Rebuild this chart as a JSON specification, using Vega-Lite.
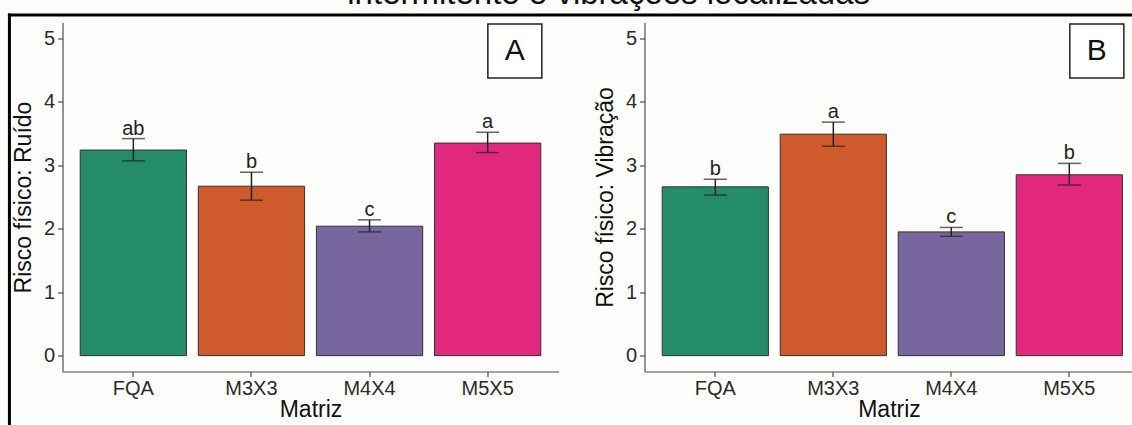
{
  "$schema": "https://vega.github.io/schema/vega-lite/v6.json",
  "padding": {"left": 6.5, "top": -22.5, "right": 0, "bottom": 0},
  "background": "#fdfdfb",
  "bounds": "flush",
  "spacing": 86,
  "title": {
    "text": "intermitente e vibrações localizadas",
    "fontSize": 33,
    "font": "Liberation Sans",
    "fontWeight": "normal",
    "color": "#111111",
    "anchor": "middle",
    "frame": "bounds",
    "baseline": "alphabetic",
    "offset": -24.5,
    "dx": 38
  },
  "datasets": {
    "ruido": [
      {"Matriz": "FQA", "media": 3.24, "inf": 3.07, "sup": 3.42, "letra": "ab"},
      {"Matriz": "M3X3", "media": 2.67, "inf": 2.45, "sup": 2.89, "letra": "b"},
      {"Matriz": "M4X4", "media": 2.04, "inf": 1.95, "sup": 2.14, "letra": "c"},
      {"Matriz": "M5X5", "media": 3.35, "inf": 3.2, "sup": 3.52, "letra": "a"}
    ],
    "vibracao": [
      {"Matriz": "FQA", "media": 2.66, "inf": 2.53, "sup": 2.78, "letra": "b"},
      {"Matriz": "M3X3", "media": 3.49, "inf": 3.3, "sup": 3.68, "letra": "a"},
      {"Matriz": "M4X4", "media": 1.95, "inf": 1.88, "sup": 2.02, "letra": "c"},
      {"Matriz": "M5X5", "media": 2.85, "inf": 2.69, "sup": 3.03, "letra": "b"}
    ],
    "painelA": [{"painel": "A"}],
    "painelB": [{"painel": "B"}]
  },
  "hconcat": [
    {
      "width": 496,
      "height": 349,
      "resolve": {"scale": {"x": "independent"}, "axis": {"x": "independent"}},
      "layer": [
        {
          "data": {"name": "ruido"},
          "encoding": {
            "x": {"field": "Matriz", "type": "nominal", "sort": ["FQA", "M3X3", "M4X4", "M5X5"], "scale": {"paddingInner": 0.1, "paddingOuter": 0.15}, "axis": {"title": "Matriz", "labelAngle": 0}}
          },
          "layer": [
            {
              "mark": {"type": "bar", "stroke": "#333333", "strokeWidth": 1},
              "encoding": {
                "y": {"field": "media", "type": "quantitative", "scale": {"domain": [-0.25, 5.25], "nice": false, "zero": false}, "axis": {"title": "Risco físico: Ruído", "values": [0, 1, 2, 3, 4, 5], "format": "d"}},
                "color": {"field": "Matriz", "type": "nominal", "scale": {"domain": ["FQA", "M3X3", "M4X4", "M5X5"], "range": ["#248c66", "#cf5b2c", "#78679f", "#e1287c"]}, "legend": null}
              }
            },
            {
              "mark": {"type": "rule", "color": "#222222", "strokeWidth": 1.5},
              "encoding": {
                "y": {"field": "inf", "type": "quantitative", "scale": {"domain": [-0.25, 5.25]}},
                "y2": {"field": "sup"}
              }
            },
            {
              "mark": {"type": "tick", "color": "#222222", "thickness": 1.5, "size": 23},
              "encoding": {"y": {"field": "inf", "type": "quantitative", "scale": {"domain": [-0.25, 5.25]}}}
            },
            {
              "mark": {"type": "tick", "color": "#222222", "thickness": 1.5, "size": 23},
              "encoding": {"y": {"field": "sup", "type": "quantitative", "scale": {"domain": [-0.25, 5.25]}}}
            },
            {
              "mark": {"type": "text", "baseline": "alphabetic", "dy": -4, "fontSize": 20, "font": "Liberation Sans", "color": "#222222"},
              "encoding": {
                "y": {"field": "sup", "type": "quantitative", "scale": {"domain": [-0.25, 5.25]}},
                "text": {"field": "letra"}
              }
            }
          ]
        },
        {
          "data": {"name": "painelA"},
          "layer": [
            {
              "mark": {"type": "point", "shape": "square", "size": 2916, "filled": true, "fill": "#ffffff", "stroke": "#222222", "strokeWidth": 1.5, "opacity": 1},
              "encoding": {
                "x": {"datum": 0.912, "type": "quantitative", "scale": {"domain": [0, 1], "nice": false, "zero": false}, "axis": null},
                "y": {"datum": 4.8, "type": "quantitative", "scale": {"domain": [-0.25, 5.25]}}
              }
            },
            {
              "mark": {"type": "text", "fontSize": 30, "font": "Liberation Sans", "color": "#111111", "baseline": "middle", "align": "center"},
              "encoding": {
                "x": {"datum": 0.912, "type": "quantitative", "scale": {"domain": [0, 1]}, "axis": null},
                "y": {"datum": 4.8, "type": "quantitative", "scale": {"domain": [-0.25, 5.25]}},
                "text": {"field": "painel"}
              }
            },
            {
              "mark": {"type": "rule", "color": "#000000", "strokeWidth": 3, "strokeCap": "square", "clip": false},
              "encoding": {
                "x": {"datum": -0.107, "type": "quantitative", "scale": {"domain": [0, 1]}, "axis": null},
                "x2": {"datum": 2.156},
                "y": {"datum": 5.368, "type": "quantitative", "scale": {"domain": [-0.25, 5.25]}}
              }
            },
            {
              "mark": {"type": "rule", "color": "#000000", "strokeWidth": 3, "strokeCap": "square", "clip": false},
              "encoding": {
                "x": {"datum": -0.107, "type": "quantitative", "scale": {"domain": [0, 1]}, "axis": null},
                "y": {"datum": -1.092, "type": "quantitative", "scale": {"domain": [-0.25, 5.25]}},
                "y2": {"datum": 5.368}
              }
            }
          ]
        }
      ]
    },
    {
      "width": 489,
      "height": 349,
      "resolve": {"scale": {"x": "independent"}, "axis": {"x": "independent"}},
      "layer": [
        {
          "data": {"name": "vibracao"},
          "encoding": {
            "x": {"field": "Matriz", "type": "nominal", "sort": ["FQA", "M3X3", "M4X4", "M5X5"], "scale": {"paddingInner": 0.1, "paddingOuter": 0.122, "align": 0.615}, "axis": {"title": "Matriz", "labelAngle": 0}}
          },
          "layer": [
            {
              "mark": {"type": "bar", "stroke": "#333333", "strokeWidth": 1},
              "encoding": {
                "y": {"field": "media", "type": "quantitative", "scale": {"domain": [-0.25, 5.25], "nice": false, "zero": false}, "axis": {"title": "Risco físico: Vibração", "values": [0, 1, 2, 3, 4, 5], "format": "d"}},
                "color": {"field": "Matriz", "type": "nominal", "scale": {"domain": ["FQA", "M3X3", "M4X4", "M5X5"], "range": ["#248c66", "#cf5b2c", "#78679f", "#e1287c"]}, "legend": null}
              }
            },
            {
              "mark": {"type": "rule", "color": "#222222", "strokeWidth": 1.5},
              "encoding": {
                "y": {"field": "inf", "type": "quantitative", "scale": {"domain": [-0.25, 5.25]}},
                "y2": {"field": "sup"}
              }
            },
            {
              "mark": {"type": "tick", "color": "#222222", "thickness": 1.5, "size": 23},
              "encoding": {"y": {"field": "inf", "type": "quantitative", "scale": {"domain": [-0.25, 5.25]}}}
            },
            {
              "mark": {"type": "tick", "color": "#222222", "thickness": 1.5, "size": 23},
              "encoding": {"y": {"field": "sup", "type": "quantitative", "scale": {"domain": [-0.25, 5.25]}}}
            },
            {
              "mark": {"type": "text", "baseline": "alphabetic", "dy": -4, "fontSize": 20, "font": "Liberation Sans", "color": "#222222"},
              "encoding": {
                "y": {"field": "sup", "type": "quantitative", "scale": {"domain": [-0.25, 5.25]}},
                "text": {"field": "letra"}
              }
            }
          ]
        },
        {
          "data": {"name": "painelB"},
          "layer": [
            {
              "mark": {"type": "point", "shape": "square", "size": 2916, "filled": true, "fill": "#ffffff", "stroke": "#222222", "strokeWidth": 1.5, "opacity": 1},
              "encoding": {
                "x": {"datum": 0.912, "type": "quantitative", "scale": {"domain": [0, 1], "nice": false, "zero": false, "range": [0, 496]}, "axis": null},
                "y": {"datum": 4.8, "type": "quantitative", "scale": {"domain": [-0.25, 5.25]}}
              }
            },
            {
              "mark": {"type": "text", "fontSize": 30, "font": "Liberation Sans", "color": "#111111", "baseline": "middle", "align": "center"},
              "encoding": {
                "x": {"datum": 0.912, "type": "quantitative", "scale": {"domain": [0, 1]}, "axis": null},
                "y": {"datum": 4.8, "type": "quantitative", "scale": {"domain": [-0.25, 5.25]}},
                "text": {"field": "painel"}
              }
            }
          ]
        }
      ]
    }
  ],
  "config": {
    "view": {"stroke": null},
    "font": "Liberation Sans",
    "axis": {
      "grid": false,
      "domainColor": "#4d4d4d",
      "domainWidth": 1.2,
      "tickColor": "#4d4d4d",
      "tickWidth": 1.2,
      "tickSize": 5,
      "labelFont": "Liberation Sans",
      "labelColor": "#2b2b2b",
      "titleFont": "Liberation Sans",
      "titleFontWeight": "normal",
      "titleColor": "#111111",
      "titleFontSize": 23
    },
    "axisY": {"labelFontSize": 20, "labelPadding": 3, "titlePadding": 8},
    "axisX": {"labelFontSize": 20, "labelPadding": 2, "titlePadding": 0}
  }
}
